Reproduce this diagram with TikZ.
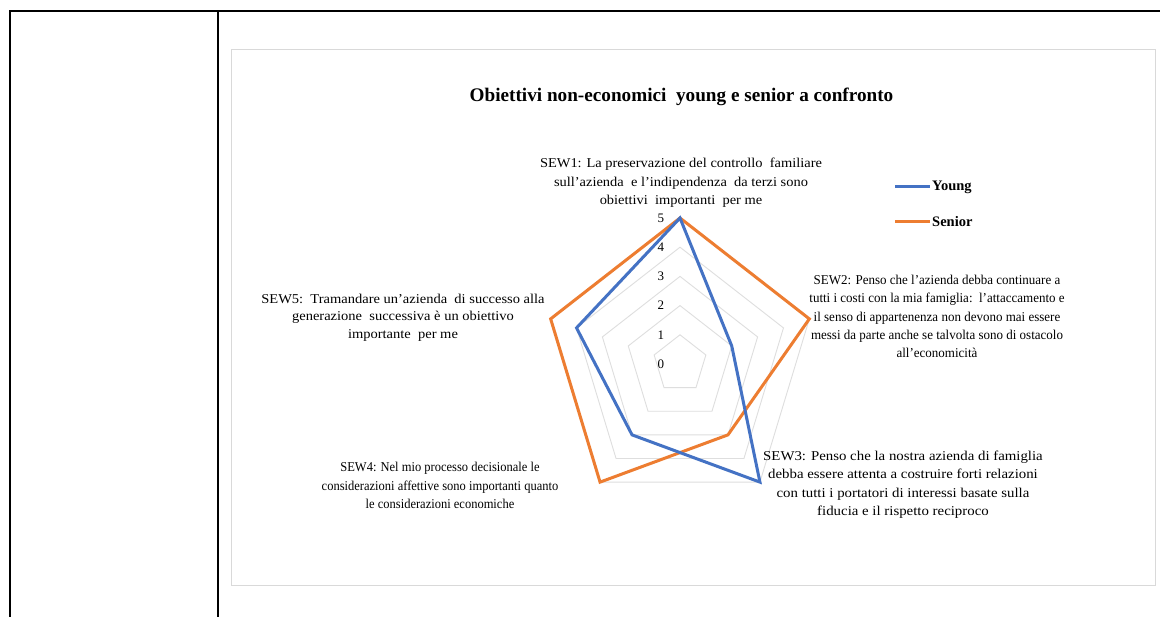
\documentclass[tikz,border=0pt]{standalone}
\usepackage{fontspec}
\setmainfont{Liberation Serif}
\tikzset{
  frameline/.style={black, line width=2pt},
  chartbox/.style={draw=black!15, line width=1pt},
  gridline/.style={draw=black!13, line width=0.9pt},
  young/.style={draw={rgb,255:red,68;green,114;blue,196}, line width=3pt, line join=miter},
  senior/.style={draw={rgb,255:red,237;green,125;blue,49}, line width=3pt, line join=miter},
  catlabel/.style={align=center, inner sep=0pt, transform shape,
    font=\fontsize{13.5}{18.4}\selectfont},
  ticklabel/.style={font=\fontsize{13}{15}\selectfont, inner sep=0pt},
  legtext/.style={anchor=west, font=\bfseries\fontsize{14.5}{16}\selectfont, inner sep=0pt},
}
\begin{document}
\begin{tikzpicture}[x=1pt,y=-1pt]
\useasboundingbox (0,0) rectangle (1160,617);
\fill[white] (0,0) rectangle (1160,617);

% table rules
\coordinate (tl) at (10,11.5);
\coordinate (tr) at (1160,11.5);
\coordinate (bl) at (10,617);
\coordinate (cm) at (217.5,11.5);
\coordinate (cb) at (217.5,617);
\draw[frameline] (bl) -- (tl) -- (tr);
\draw[frameline] (cm) -- (cb);

% chart area
\draw[chartbox] (231.5,50) rectangle (1155.5,585);

\node[font=\bfseries\fontsize{19.2}{22}\selectfont] (title) at (681.5,97)
  {Obiettivi non-economici\ \ young e senior a confronto};

% radar
\begin{scope}[shift={(680,364)}, x=27.2pt, y=29.2pt]
  \foreach \l in {1,...,5}
    \draw[gridline] (90:\l) -- (18:\l) -- (-54:\l) -- (-126:\l) -- (162:\l) -- cycle;
  \foreach \v in {0,...,5}
    \node[ticklabel] (t\v) at (-0.7,\v) {\v};

  % senior series
  \coordinate (s1) at (90:5);
  \coordinate (s2) at (18:5);
  \coordinate (s3) at (-54:3);
  \coordinate (s4) at (-126:5);
  \coordinate (s5) at (162:5);
  % young series
  \coordinate (y1) at (90:5);
  \coordinate (y2) at (18:2);
  \coordinate (y3) at (-54:5);
  \coordinate (y4) at (-126:3);
  \coordinate (y5) at (162:4);

  \draw[senior] (s1) -- (s2) -- (s3) -- (s4) -- (s5) -- cycle;
  \draw[young] (y1) -- (y2) -- (y3) -- (y4) -- (y5) -- cycle;
\end{scope}

% category labels (each block stretched to its own width)
\begin{scope}[shift={(681,183)}, xscale=1.07]
\node[catlabel] (c1) at (0,0)
  {SEW1: La preservazione del controllo\ \ familiare\\
   sull’azienda\ \ e l’indipendenza\ \ da terzi sono\\
   obiettivi\ \ importanti\ \ per me};
\end{scope}
\begin{scope}[shift={(937,316.5)}, xscale=0.963]
\node[catlabel] (c2) at (0,0)
  {SEW2: Penso che l’azienda debba continuare a\\
   tutti i costi con la mia famiglia:\ \ l’attaccamento e\\
   il senso di appartenenza non devono mai essere\\
   messi da parte anche se talvolta sono di ostacolo\\
   all’economicità};
\end{scope}
\begin{scope}[shift={(903,484.5)}, xscale=1.1]
\node[catlabel] (c3) at (0,0)
  {SEW3: Penso che la nostra azienda di famiglia\\
   debba essere attenta a costruire forti relazioni\\
   con tutti i portatori di interessi basate sulla\\
   fiducia e il rispetto reciproco};
\end{scope}
\begin{scope}[shift={(440,485.5)}, xscale=0.926]
\node[catlabel] (c4) at (0,0)
  {SEW4: Nel mio processo decisionale le\\
   considerazioni affettive sono importanti quanto\\
   le considerazioni economiche};
\end{scope}
\begin{scope}[shift={(403,317.5)}, xscale=1.074]
\node[catlabel, font=\fontsize{13.5}{17.5}\selectfont] (c5) at (0,0)
  {SEW5:\ \ Tramandare un’azienda\ \ di successo alla\\
   generazione\ \ successiva è un obiettivo\\
   importante\ \ per me};
\end{scope}

% legend
\coordinate (ly0) at (895,187);
\coordinate (ly1) at (930,187);
\coordinate (ls0) at (895,222);
\coordinate (ls1) at (930,222);
\draw[young] (ly0) -- (ly1);
\draw[senior] (ls0) -- (ls1);
\node[legtext] (lyt) at (932,187) {Young};
\node[legtext] (lst) at (932,222) {Senior};
\end{tikzpicture}
\end{document}
